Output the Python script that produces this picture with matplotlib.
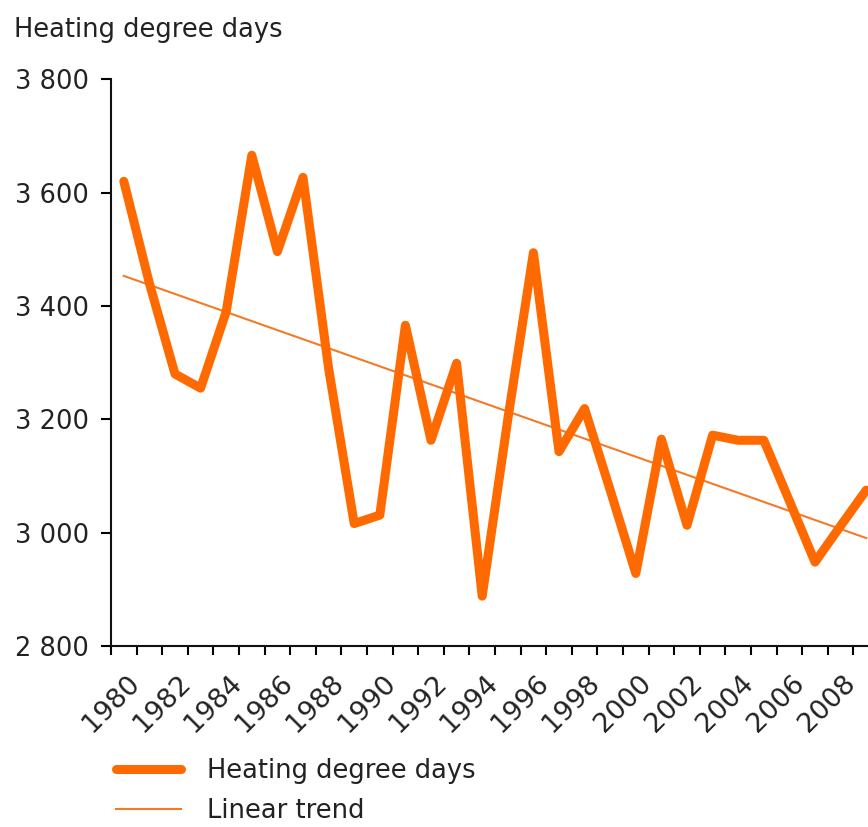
import numpy as np
import matplotlib
matplotlib.use('Agg')
import matplotlib.pyplot as plt
from matplotlib.ticker import FixedLocator, FuncFormatter

years = list(range(1980, 2010))
hdd = [3620, 3440, 3280, 3255, 3390, 3666, 3496, 3627, 3290, 3016,
       3031, 3366, 3163, 3299, 2888, 3200, 3494, 3143, 3219, 3075,
       2928, 3165, 3013, 3172, 3163, 3163, 3056, 2948, 3012, 3075]
y_ticks = [2800, 3000, 3200, 3400, 3600, 3800]
x_labels = list(range(1980, 2009, 2))

orange = '#FF6A00'
text_col = '#222222'
fs = 18.5

plt.rcParams['font.family'] = 'DejaVu Sans'

fig = plt.figure(figsize=(8.68, 8.27), dpi=100)
ax = fig.add_axes([111 / 868, 1 - 646 / 827, 768 / 868, (646 - 79.3) / 827])

# linear trend fitted to the series
coef = np.polyfit(years, hdd, 1)
trend = np.polyval(coef, years)

ax.plot(years, hdd, color=orange, lw=6.5, solid_joinstyle='round',
        solid_capstyle='round', label='Heating degree days', zorder=3)
ax.plot(years, trend, color='#F57A28', lw=1.5, label='Linear trend', zorder=2)

ax.set_xlim(years[0] - 0.5, years[-1] + 0.5)
ax.set_ylim(y_ticks[0], y_ticks[-1])

for s in ['top', 'right']:
    ax.spines[s].set_visible(False)
for s in ['left', 'bottom']:
    ax.spines[s].set_linewidth(1.5)
    ax.spines[s].set_color('#111111')

ax.set_yticks(y_ticks)
ax.yaxis.set_major_formatter(FuncFormatter(lambda v, p: f'{int(v):,}'.replace(',', ' ')))
ax.tick_params(axis='y', length=7, width=1.5, pad=9, labelsize=fs, labelcolor=text_col)

# ticks between years; every second year labelled at its left tick
ax.xaxis.set_major_locator(FixedLocator([y - 0.5 for y in years] + [years[-1] + 0.5]))


def year_label(v, p):
    yr = int(round(v + 0.5))
    return str(yr) if yr in x_labels else ''


ax.xaxis.set_major_formatter(FuncFormatter(year_label))
ax.tick_params(axis='x', which='major', length=6.5, width=1.5, pad=11,
               labelsize=19.5, labelcolor=text_col, labelrotation=45)
for lab in ax.xaxis.get_majorticklabels():
    lab.set_ha('center')
    lab.set_va('top')

fig.text(14 / 868, 1 - 30 / 827, 'Heating degree days', fontsize=fs,
         color=text_col, va='center', ha='left')

fig.legend(loc='upper left', bbox_to_anchor=(106 / 868, 1 - 748 / 827),
           frameon=False, fontsize=fs, handlelength=2.5, handletextpad=1.05,
           labelspacing=0.55, labelcolor=text_col, borderaxespad=0)

fig.savefig('out.png', dpi=100)
